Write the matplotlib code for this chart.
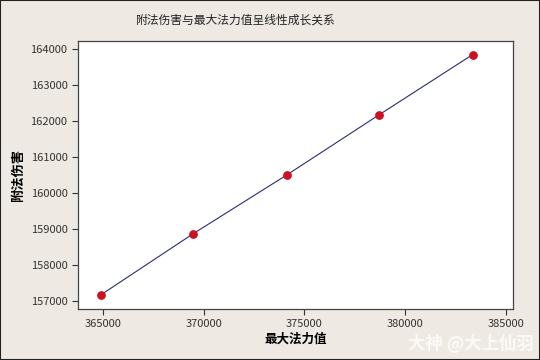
import matplotlib
matplotlib.use("Agg")
import matplotlib.pyplot as plt

plt.rcParams['font.family'] = ['Noto Sans CJK SC', 'DejaVu Sans']

# max mana vs. spell damage
max_mana = [364886, 369454, 374121, 378689, 383342]
spell_dmg = [157159, 158855, 160497, 162165, 163843]
x_ticks = [365000, 370000, 375000, 380000, 385000]
y_ticks = [157000, 158000, 159000, 160000, 161000, 162000, 163000, 164000]

bg = '#EEEAE3'
fig = plt.figure(figsize=(5.4, 3.6), dpi=100, facecolor=bg)
ax = fig.add_axes([0.1444, 0.1417, 0.8056, 0.7443])
ax.set_facecolor('white')

ax.plot(max_mana, spell_dmg, color='#2B2B7A', lw=0.8, zorder=2)
ax.scatter(max_mana, spell_dmg, color='#CC1122', s=28, zorder=3)

ax.set_xlim(363760, 385350)
ax.set_ylim(156770, 164222)
ax.set_xticks(x_ticks)
ax.set_yticks(y_ticks)
ax.set_xticklabels([str(v) for v in x_ticks])
ax.set_yticklabels([str(v) for v in y_ticks])
ax.tick_params(labelsize=8, length=4, width=0.8, colors='#333333', labelcolor='#333333')
for s in ax.spines.values():
    s.set_color('#444444')
    s.set_linewidth(0.9)

ax.set_xlabel('最大法力值', fontsize=9, fontweight='bold', labelpad=2)
ax.set_ylabel('附法伤害', fontsize=9.5, fontweight='bold', labelpad=4)
fig.text(0.435, 0.945, '附法伤害与最大法力值呈线性成长关系', ha='center', va='center',
         fontsize=8.5, color='#222222')

# watermark
fig.text(0.988, 0.045, '大神 @大上仙羽', ha='right', va='center', fontsize=12.5,
         color='white', alpha=0.75, fontweight='bold')

# outer frame
fig.patches.append(plt.Rectangle((0, 0), 1, 1, transform=fig.transFigure,
                                 fill=False, edgecolor='#222222', lw=1.5))

fig.savefig('out.png', dpi=100, facecolor=bg)
